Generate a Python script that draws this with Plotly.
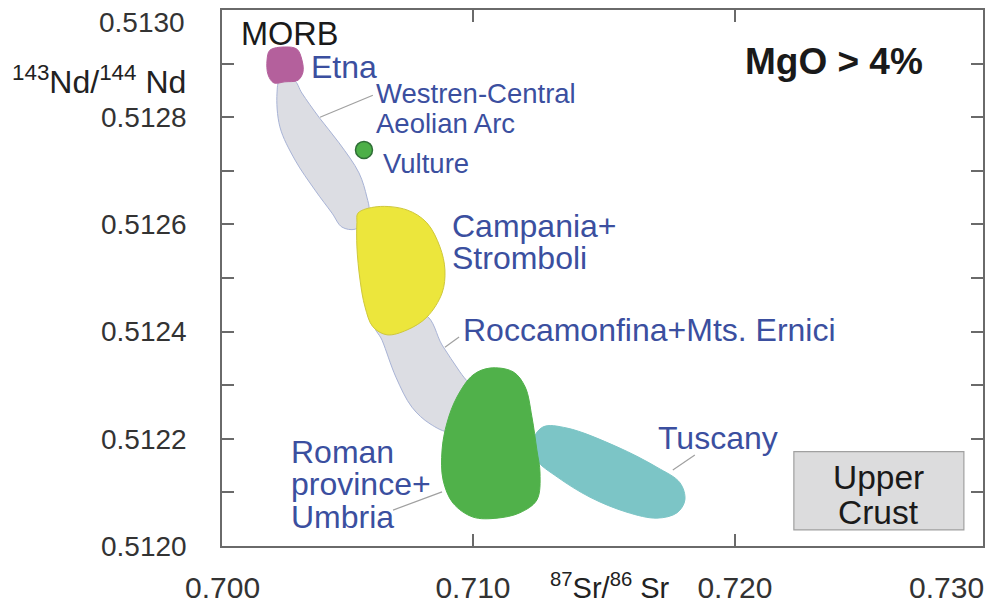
import plotly.graph_objects as go

# ---- region outlines (87Sr/86Sr, 143Nd/144Nd) ----
morb_x = [0.70225, 0.70282, 0.70328, 0.70347, 0.70351, 0.70332, 0.70282, 0.70240, 0.70218, 0.70214]
morb_y = [0.512925, 0.512931, 0.512927, 0.512907, 0.512884, 0.512869, 0.512866, 0.512864, 0.512879, 0.512907]

aeolian_x = [0.70263, 0.70317, 0.70347, 0.70412, 0.70489, 0.70565, 0.70595, 0.70603, 0.70580, 0.70550, 0.70500, 0.70462, 0.70397, 0.70321, 0.70263, 0.70252]
aeolian_y = [0.512869, 0.512869, 0.512845, 0.512800, 0.512752, 0.512696, 0.512651, 0.512627, 0.512604, 0.512591, 0.512595, 0.512621, 0.512664, 0.512720, 0.512782, 0.512845]

campania_x = [0.70561, 0.70634, 0.70748, 0.70824, 0.70874, 0.70893, 0.70882, 0.70824, 0.70748, 0.70672, 0.70618, 0.70588, 0.70569, 0.70557, 0.70557]
campania_y = [0.512621, 0.512633, 0.512627, 0.512603, 0.512558, 0.512515, 0.512472, 0.512427, 0.512403, 0.512394, 0.512409, 0.512446, 0.512496, 0.512558, 0.512603]

rocca_x = [0.70626, 0.70817, 0.70882, 0.70950, 0.71008, 0.70989, 0.70912, 0.70836, 0.70767, 0.70706, 0.70653]
rocca_y = [0.512412, 0.512431, 0.512375, 0.512325, 0.512282, 0.512235, 0.512213, 0.512228, 0.512259, 0.512315, 0.512384]

roman_x = [0.71065, 0.71153, 0.71199, 0.71225, 0.71244, 0.71256, 0.71244, 0.71179, 0.71092, 0.71000, 0.70924, 0.70886, 0.70882, 0.70901, 0.70939, 0.71000]
roman_y = [0.512332, 0.512325, 0.512297, 0.512241, 0.512179, 0.512136, 0.512086, 0.512062, 0.512052, 0.512054, 0.512080, 0.512123, 0.512179, 0.512230, 0.512278, 0.512319]

tuscany_x = [0.71225, 0.71267, 0.71359, 0.71550, 0.71702, 0.71790, 0.71809, 0.71779, 0.71702, 0.71588, 0.71447, 0.71321, 0.71244]
tuscany_y = [0.512192, 0.512222, 0.512220, 0.512185, 0.512147, 0.512118, 0.512086, 0.512062, 0.512052, 0.512063, 0.512091, 0.512129, 0.512160]

vulture_x = [0.70584]
vulture_y = [0.512739]

crust_x = [0.72225, 0.72874]
crust_y = [0.512030, 0.512176]

# ---- leader lines (from label to field) ----
leaders = [
    ([0.70618, 0.70416], [0.512841, 0.512800]),
    ([0.70947, 0.70893], [0.512390, 0.512371]),
    ([0.71847, 0.71763], [0.512170, 0.512142]),
    ([0.70695, 0.70882], [0.512067, 0.512101]),
]

# ---- labels (one entry per text line) ----
blue_labels = [
    ("Etna", 0.70375, 0.512894, 32),
    ("Westren-Central", 0.70622, 0.512845, 27.5),
    ("Aeolian Arc", 0.70622, 0.512789, 27.5),
    ("Vulture", 0.70650, 0.512714, 27.5),
    ("Campania+", 0.70912, 0.512597, 32),
    ("Stromboli", 0.70912, 0.512537, 32),
    ("Roccamonfina+Mts. Ernici", 0.70954, 0.512403, 32),
    ("Tuscany", 0.71698, 0.512201, 32),
    ("Roman", 0.70298, 0.512175, 32),
    ("province+", 0.70298, 0.512116, 32),
    ("Umbria", 0.70298, 0.512054, 32),
]
crust_labels = [("Upper", 0.512127), ("Crust", 0.512063)]

y_ticks = [0.5120, 0.5122, 0.5124, 0.5126, 0.5128]
x_ticks = [0.710, 0.720]
x_range = [0.70042, 0.72947]
y_range = [0.5120, 0.5130]

FONT = "Liberation Sans, Arial, sans-serif"
BLUE = "#3b4f9f"
AXC = "#6a6a6a"

fig = go.Figure()

def region(xs, ys, fill, line, name):
    fig.add_trace(go.Scatter(
        x=xs + xs[:1], y=ys + ys[:1], mode="lines", fill="toself",
        fillcolor=fill, line=dict(color=line, width=1, shape="spline", smoothing=1.0),
        name=name, hoverinfo="name", showlegend=False))

region(aeolian_x, aeolian_y, "#dcdde3", "#a8b3d6", "Westren-Central Aeolian Arc")
region(rocca_x, rocca_y, "#dcdde3", "#a8b3d6", "Roccamonfina+Mts. Ernici")
region(campania_x, campania_y, "#ece63c", "#cfc83a", "Campania+Stromboli")
region(morb_x, morb_y, "#b4609c", "#b4609c", "MORB/Etna")
region(tuscany_x, tuscany_y, "#7cc5c6", "#7cc5c6", "Tuscany")
region(roman_x, roman_y, "#50b14a", "#50b14a", "Roman province+Umbria")

fig.add_trace(go.Scatter(
    x=vulture_x, y=vulture_y, mode="markers",
    marker=dict(size=17, color="#4caf47", line=dict(color="#2f6e36", width=1.5)),
    name="Vulture", showlegend=False))

for lx, ly in leaders:
    fig.add_trace(go.Scatter(x=lx, y=ly, mode="lines",
                             line=dict(color="#a0a0a0", width=1.2),
                             hoverinfo="skip", showlegend=False))

fig.add_shape(type="rect", xref="x", yref="y",
              x0=crust_x[0], x1=crust_x[1], y0=crust_y[0], y1=crust_y[1],
              fillcolor="#dcdcdd", line=dict(color="#a0a0a0", width=1.2), layer="above")

ann = []
for text, x, y, s in blue_labels:
    ann.append(dict(text=text, x=x, y=y, xref="x", yref="y", xanchor="left",
                    yanchor="middle", align="left", showarrow=False,
                    font=dict(family=FONT, size=s, color=BLUE)))

ann.append(dict(text="MORB", x=0.70107, y=0.512955, xref="x", yref="y",
                xanchor="left", yanchor="middle", showarrow=False,
                font=dict(family=FONT, size=32.5, color="#1a1a1a")))
for text, y in crust_labels:
    ann.append(dict(text=text, x=(crust_x[0] + crust_x[1]) / 2, y=y, xref="x", yref="y",
                    xanchor="center", yanchor="middle", showarrow=False,
                    font=dict(family=FONT, size=33.5, color="#1a1a1a")))
ann.append(dict(text="<b>MgO &gt; 4%</b>", x=0.72378, y=0.512903, xref="x", yref="y",
                xanchor="center", yanchor="middle", showarrow=False,
                font=dict(family=FONT, size=37, color="#1a1a1a")))
# axis titles
ann.append(dict(text="<sup>143</sup>Nd/<sup>144</sup> Nd", x=-0.2786, y=0.869,
                xref="paper", yref="paper", xanchor="left", yanchor="middle",
                showarrow=False, font=dict(family=FONT, size=32, color="#222")))
ann.append(dict(text="<sup>87</sup>Sr/<sup>86</sup> Sr", x=0.4285, y=-0.112,
                xref="paper", yref="paper", xanchor="left", yanchor="bottom",
                showarrow=False, font=dict(family=FONT, size=29, color="#222")))
# outer tick labels
ann.append(dict(text="0.5130", x=-0.046, y=0.9776, xref="paper", yref="paper",
                xanchor="right", yanchor="middle", showarrow=False,
                font=dict(family=FONT, size=28, color="#333")))
ann.append(dict(text="0.700", x=0.0013, y=-0.078, xref="paper", yref="paper",
                xanchor="center", yanchor="middle", showarrow=False,
                font=dict(family=FONT, size=30, color="#333")))
ann.append(dict(text="0.730", x=0.9514, y=-0.078, xref="paper", yref="paper",
                xanchor="center", yanchor="middle", showarrow=False,
                font=dict(family=FONT, size=30, color="#333")))

# the page body adds an 8 px margin, so the figure is drawn 16 px smaller
fig.update_layout(
    width=978, height=598,
    margin=dict(l=214, r=3, t=2, b=60, autoexpand=False),
    paper_bgcolor="white", plot_bgcolor="white",
    annotations=ann, showlegend=False,
    font=dict(family=FONT, color="#333"),
)
fig.update_xaxes(range=x_range, tickvals=x_ticks, tickformat=".3f",
                 ticks="inside", ticklen=12, tickwidth=1.5, tickcolor=AXC,
                 showline=True, linecolor=AXC, linewidth=1.5, mirror="ticks",
                 showgrid=False, zeroline=False, ticklabelstandoff=14, automargin=False,
                 tickfont=dict(family=FONT, size=30, color="#333"))
fig.update_yaxes(range=y_range, tickvals=y_ticks, tickformat=".4f",
                 ticks="inside", ticklen=12, tickwidth=1.5, tickcolor=AXC,
                 minor=dict(dtick=0.0001, tick0=0.5120, ticks="inside", ticklen=12,
                            tickwidth=1.5, tickcolor=AXC),
                 showline=True, linecolor=AXC, linewidth=1.5, mirror="ticks",
                 showgrid=False, zeroline=False, ticklabelstandoff=28, automargin=False,
                 tickfont=dict(family=FONT, size=28, color="#333"))

fig.write_html("out.html")
